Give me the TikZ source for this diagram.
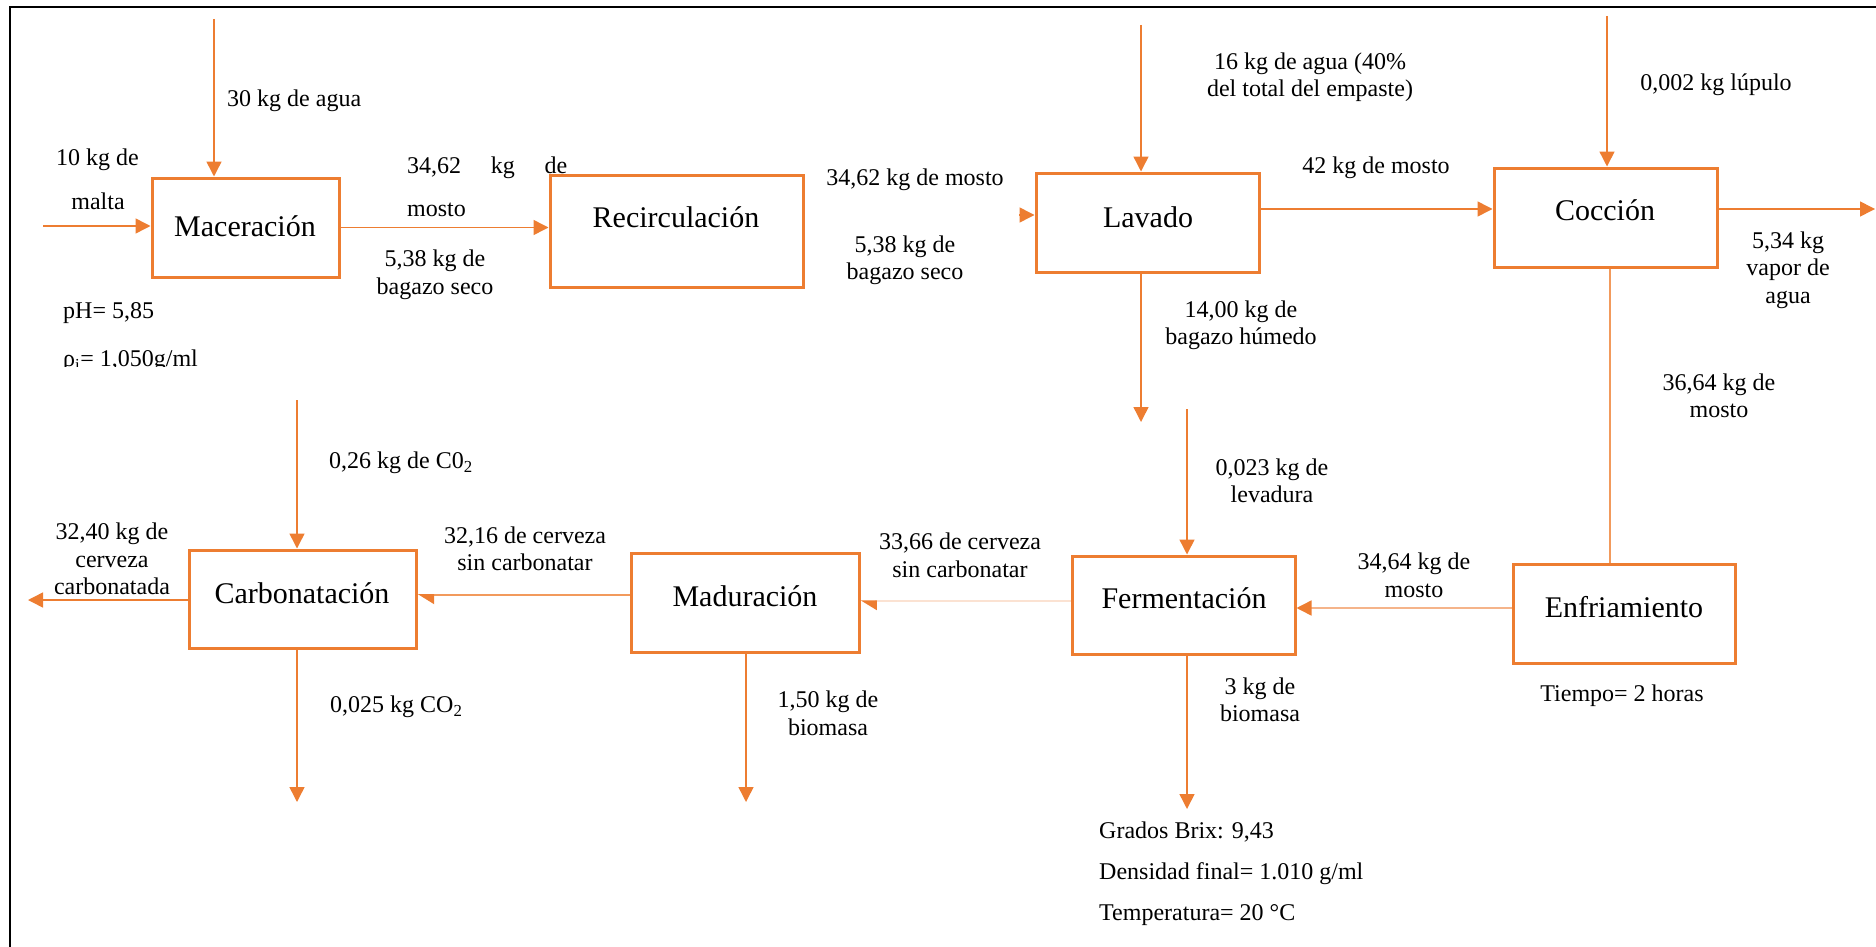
\documentclass[tikz,border=0pt]{standalone}
\usepackage{fontspec}
\setmainfont{Liberation Serif}
\usetikzlibrary{arrows.meta}
\definecolor{orng}{HTML}{ED7D31}
\definecolor{orngmid}{HTML}{F29A5C}
\definecolor{orngpale}{HTML}{F5B48A}
\definecolor{orngfaint}{HTML}{FBE2D2}

\begin{document}
\begin{tikzpicture}[x=1pt,y=-1pt,
  procbox/.style={draw=orng, line width=3pt, inner sep=0pt},
  boxtext/.style={font=\fontsize{30}{36}\selectfont, inner sep=0pt},
  lbl/.style={font=\fontsize{24}{27.5}\selectfont, inner sep=0pt, align=center},
  flow/.style={draw=orng, line width=1.5pt, -{Triangle[length=15pt,width=15pt]}},
  flowpale/.style={draw=orngpale, line width=1.5pt, -{Triangle[length=15pt,width=15pt,color=orng]}},
  flowhalf/.style={draw=orngmid, line width=2pt, -{Triangle[length=15pt,width=18pt,left,color=orng]}},
  flowfaint/.style={draw=orngfaint, line width=1.5pt, -{Triangle[length=15pt,width=18pt,left,color=orng]}},
  plainline/.style={draw=orngmid, line width=1.5pt}]

\useasboundingbox (0,0) rectangle (1876,947);

% page frame
\draw[black, line width=2.2pt] (10,947) -- (10,7) -- (1876,7);

% process boxes
\node[procbox, minimum width=187pt, minimum height=99pt]  (mac)  at (245.5,227.5) {};
\node[procbox, minimum width=253pt, minimum height=112pt] (rec)  at (676.5,231)   {};
\node[procbox, minimum width=223pt, minimum height=99pt]  (lav)  at (1147.5,222.5){};
\node[procbox, minimum width=223pt, minimum height=99pt]  (coc)  at (1605.5,217.5){};
\node[procbox, minimum width=227pt, minimum height=98pt]  (carb) at (302.5,599)   {};
\node[procbox, minimum width=228pt, minimum height=99pt]  (mad)  at (745,602.5)   {};
\node[procbox, minimum width=223pt, minimum height=98pt]  (fer)  at (1183.5,605)  {};
\node[procbox, minimum width=222pt, minimum height=99pt]  (enf)  at (1624,613.5)  {};

% process names
\node[boxtext] (macT)  at (245,226)  {Maceración};
\node[boxtext] (recT)  at (676,217)  {Recirculación};
\node[boxtext] (lavT)  at (1148,217) {Lavado};
\node[boxtext] (cocT)  at (1605,210) {Cocción};
\node[boxtext] (carbT) at (302,593)  {Carbonatación};
\node[boxtext] (madT)  at (745,596)  {Maduración};
\node[boxtext] (ferT)  at (1184,598) {Fermentación};
\node[boxtext] (enfT)  at (1624,607) {Enfriamiento};

% free ends of the streams
\coordinate (aguaIn)  at (214,19);
\coordinate (maltaIn) at (43,226);
\coordinate (recStub) at (1019,215);
\coordinate (lavIn)   at (1141,25);
\coordinate (lavOut)  at (1141,422);
\coordinate (lupIn)   at (1607,16);
\coordinate (vapOut)  at (1875,209);
\coordinate (levIn)   at (1187,409);
\coordinate (ferOut)  at (1187,809);
\coordinate (madOut)  at (746,802);
\coordinate (co2In)   at (297,400);
\coordinate (co2Out)  at (297,802);
\coordinate (beerOut) at (28,600);

% streams
\draw[flow] (aguaIn) -- (aguaIn |- mac.north);
\draw[flow] (maltaIn) -- (maltaIn -| mac.west);
\draw[flow] (mac.east) -- (mac.east -| rec.west);
\draw[flow] (recStub) -- (recStub -| lav.west);
\draw[flow] (lavIn) -- (lavIn |- lav.north);
\draw[flow] (lavOut |- lav.south) -- (lavOut);
\draw[flow] ([yshift=13.5pt]lav.east) -- ([yshift=13.5pt]lav.east -| coc.west);
\draw[flow] (lupIn) -- (lupIn |- coc.north);
\draw[flow] (coc.east |- vapOut) -- (vapOut);
\draw[plainline] ([xshift=4.5pt]coc.south) -- ([xshift=4.5pt]coc.south |- enf.north);
\draw[flowpale] ([yshift=5.5pt]enf.west) -- ([yshift=5.5pt]enf.west -| fer.east);
\draw[flow] (levIn) -- (levIn |- fer.north);
\draw[flowfaint] ([yshift=4pt]fer.west) -- ([yshift=4pt]fer.west -| mad.east);
\draw[flow] (ferOut |- fer.south) -- (ferOut);
\draw[flowhalf] ([yshift=7.5pt]mad.west) -- ([yshift=7.5pt]mad.west -| carb.east);
\draw[flow] (madOut |- mad.south) -- (madOut);
\draw[flow] (co2In) -- (co2In |- carb.north);
\draw[flow] (co2Out |- carb.south) -- (co2Out);
\draw[flow] (carb.west |- beerOut) -- (beerOut);

% stream labels
\node[lbl, anchor=west] (l1) at (227,101) {30 kg de agua};
\node[lbl] (l2) at (97.5,160) {10 kg de};
\node[lbl] (l3) at (98,201) {malta};
\node[lbl, anchor=west] (l4) at (407,168) {\makebox[160pt][s]{34,62 kg de}};
\node[lbl, anchor=west] (l5) at (407,210) {mosto};
\node[lbl] (l6) at (435,275) {5,38 kg de\\bagazo seco};
\node[lbl, anchor=west] (l7) at (63,313) {pH= 5,85};
\begin{scope}
  \clip (0,0) rectangle (700,366);
  \node[lbl, anchor=west] (l8) at (63,361) {ρ\textsubscript{i}= 1,050g/ml};
\end{scope}
\node[lbl] (l9)  at (915,180) {34,62 kg de mosto};
\node[lbl] (l10) at (905,260.5) {5,38 kg de\\bagazo seco};
\node[lbl] (l11) at (1310,77) {16 kg de agua (40\%\\del total del empaste)};
\node[lbl] (l12) at (1241,325.5) {14,00 kg de\\bagazo húmedo};
\node[lbl] (l13) at (1376,168) {42 kg de mosto};
\node[lbl] (l14) at (1716,85) {0,002 kg lúpulo};
\node[lbl] (l15) at (1788,270) {5,34 kg\\vapor de\\agua};
\node[lbl] (l16) at (1719,396) {36,64 kg de\\mosto};
\node[lbl, anchor=west] (l17) at (329,463) {0,26 kg de C0\textsubscript{2}};
\node[lbl] (l18) at (112,559) {32,40 kg de\\cerveza\\carbonatada};
\node[lbl] (l19) at (525,549) {32,16 de cerveza\\sin carbonatar};
\node[lbl, anchor=west] (l20) at (330,707) {0,025 kg CO\textsubscript{2}};
\node[lbl] (l21) at (828,713.5) {1,50 kg de\\biomasa};
\node[lbl] (l22) at (1272,481) {0,023 kg de\\levadura};
\node[lbl] (l23) at (960,555.5) {33,66 de cerveza\\sin carbonatar};
\node[lbl] (l24) at (1414,575.5) {34,64 kg de\\mosto};
\node[lbl] (l25) at (1622,696) {Tiempo= 2 horas};
\node[lbl] (l26) at (1260,700) {3 kg de\\biomasa};
\node[lbl, anchor=west] (l27) at (1099,832) {Grados Brix: 9,43};
\node[lbl, anchor=west] (l28) at (1099,874) {Densidad final= 1.010 g/ml};
\node[lbl, anchor=west] (l29) at (1099,915) {Temperatura= 20 °C};

\end{tikzpicture}
\end{document}
